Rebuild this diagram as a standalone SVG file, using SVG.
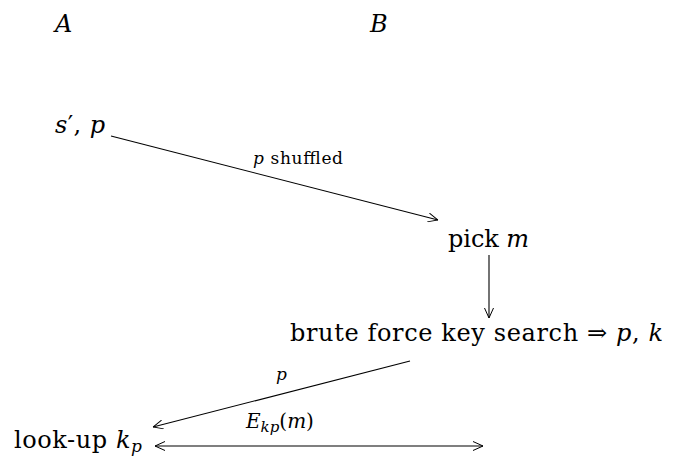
<svg xmlns="http://www.w3.org/2000/svg" width="676" height="457" viewBox="0 0 676 457">
<style>
.t{font-family:"DejaVu Serif","Liberation Serif",serif;font-size:24px;fill:#000}
.s{font-family:"DejaVu Serif","Liberation Serif",serif;font-size:17px;fill:#000}
.i{font-style:italic}
.c{stroke:#000;stroke-width:1.1;fill:none}
</style>
<defs>
<marker id="ah" viewBox="0 0 10 10" refX="10" refY="5" markerWidth="10" markerHeight="10" markerUnits="userSpaceOnUse" orient="auto-start-reverse">
<path d="M0,0.5 L10,5 L0,9.5" fill="none" stroke="#000" stroke-width="1"/>
</marker>
</defs>
<g id="nA"><text class="t i" x="55" y="32">A</text></g>
<g id="nB"><text class="t i" x="370" y="32">B</text></g>
<g id="n1"><text class="t" x="55" y="133" textLength="50"><tspan class="i">s</tspan>′, <tspan class="i">p</tspan></text></g>
<g id="n2"><text class="t" x="448" y="247" textLength="81"><tspan>pick </tspan><tspan class="i">m</tspan></text></g>
<g id="n3"><text class="t" x="290" y="341" textLength="373">brute force key search ⇒ <tspan class="i">p</tspan>, <tspan class="i">k</tspan></text></g>
<g id="n4"><text class="t" x="14" y="448" textLength="128">look-up <tspan class="i">k</tspan><tspan class="i" style="font-size:17px" dy="4">p</tspan></text></g>
<g id="connectors">
<line class="c" x1="111" y1="136" x2="438" y2="220" marker-end="url(#ah)"/>
<line class="c" x1="489" y1="255" x2="489" y2="318" marker-end="url(#ah)"/>
<line class="c" x1="410" y1="361" x2="153" y2="427" marker-end="url(#ah)"/>
<line class="c" x1="155" y1="446" x2="483" y2="446" marker-start="url(#ah)" marker-end="url(#ah)"/>
<text class="s" x="253" y="164" textLength="90"><tspan class="i">p</tspan> shuffled</text>
<text class="s i" x="276" y="380">p</text>
<text class="s" x="246" y="428" style="font-size:20px"><tspan class="i">E</tspan><tspan class="i" style="font-size:15px" dy="4">kp</tspan><tspan dy="-4">(</tspan><tspan class="i">m</tspan>)</text>
</g>
</svg>
